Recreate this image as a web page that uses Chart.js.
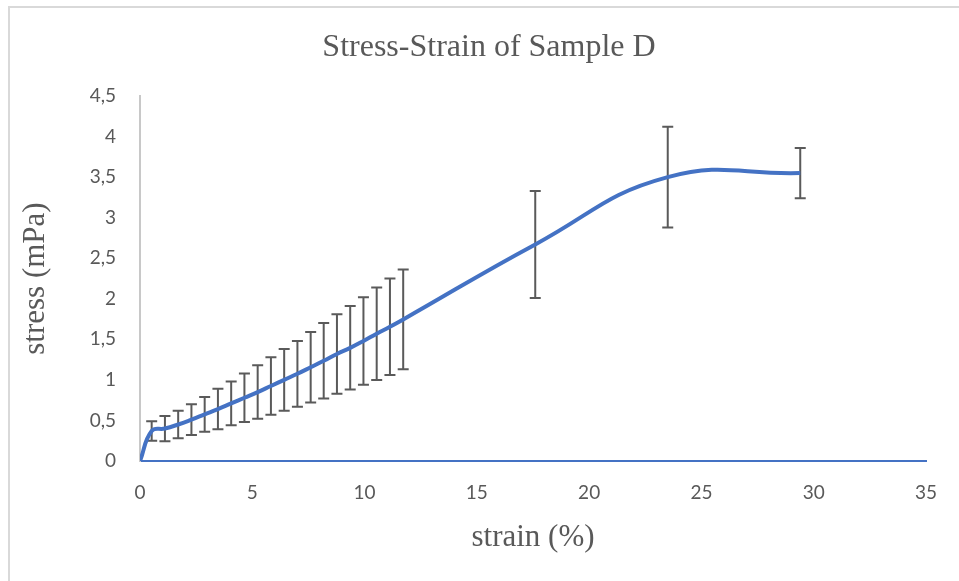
<!DOCTYPE html>
<html>
<head>
<meta charset="utf-8">
<title>Stress-Strain of Sample D</title>
<script src="https://cdn.jsdelivr.net/npm/chart.js@4.4.1/dist/chart.umd.min.js"></script>
<style>
  body { margin: 0; background: #fff; }
  .frame {
    position: absolute; left: 8px; top: 6px; width: 960px; height: 580px;
    border-top: 2px solid #d9d9d9; border-left: 2px solid #d9d9d9;
  }
  #chart { position: absolute; left: 0; top: 0; }
</style>
</head>
<body>
<div class="frame"></div>
<canvas id="chart" width="959" height="581"></canvas>
<script>
// strain (%) and mean stress (mPa) with the +/- spread of each point
const strain = [0, 0.52, 1.11, 1.70, 2.29, 2.88, 3.47, 4.06, 4.65, 5.24, 5.83, 6.42, 7.01, 7.60, 8.18, 8.77, 9.36, 9.95, 10.54, 11.13, 11.72, 17.6, 23.5, 29.4];
const stress = [0, 0.37, 0.40, 0.45, 0.51, 0.575, 0.64, 0.71, 0.78, 0.85, 0.925, 1.0, 1.075, 1.155, 1.235, 1.32, 1.395, 1.48, 1.57, 1.655, 1.745, 2.67, 3.50, 3.55];
const stressErr = [0, 0.12, 0.155, 0.17, 0.19, 0.215, 0.25, 0.27, 0.30, 0.33, 0.355, 0.38, 0.405, 0.435, 0.465, 0.49, 0.515, 0.54, 0.57, 0.595, 0.615, 0.66, 0.62, 0.31];
const xTicks = [0, 5, 10, 15, 20, 25, 30, 35];
const yTicks = [0, 0.5, 1, 1.5, 2, 2.5, 3, 3.5, 4, 4.5];

const points = strain.map((x, i) => ({ x: x, y: stress[i] }));

// vertical error bars with caps, drawn under the line
const errorBars = {
  id: 'errorBars',
  beforeDatasetsDraw(chart) {
    const ctx = chart.ctx;
    const xs = chart.scales.x, ys = chart.scales.y;
    ctx.save();
    ctx.strokeStyle = '#5a5a5a';
    ctx.lineWidth = 2;
    strain.forEach((x, i) => {
      if (!stressErr[i]) return;
      const px = xs.getPixelForValue(x);
      const top = ys.getPixelForValue(stress[i] + stressErr[i]);
      const bot = ys.getPixelForValue(stress[i] - stressErr[i]);
      ctx.beginPath();
      ctx.moveTo(px, top); ctx.lineTo(px, bot);
      ctx.moveTo(px - 5.5, top); ctx.lineTo(px + 5.5, top);
      ctx.moveTo(px - 5.5, bot); ctx.lineTo(px + 5.5, bot);
      ctx.stroke();
    });
    ctx.restore();
  }
};

const tickFont = { family: 'Lato', size: 19 };
const titleFont = { family: '"Liberation Serif"', size: 32, weight: 'normal', lineHeight: 1.2 };
const axisTitleFont = { family: '"Liberation Serif"', size: 31, weight: 'normal', lineHeight: 1.2 };

new Chart(document.getElementById('chart'), {
  type: 'line',
  data: {
    datasets: [{
      label: 'stress',
      data: points,
      borderColor: '#4472C4',
      borderWidth: 4,
      pointRadius: 0,
      tension: 0.45,
      fill: false
    }]
  },
  options: {
    responsive: false,
    animation: false,
    // left padding keeps the title centred on the chart block; the y title is pulled back out with a negative offset
    layout: { padding: { left: 52, right: 33, top: 0, bottom: 20 } },
    plugins: {
      legend: { display: false },
      tooltip: { enabled: false },
      title: {
        display: true,
        text: 'Stress-Strain of Sample D',
        color: '#595959',
        font: titleFont,
        padding: { top: 28, bottom: 29.6 }
      }
    },
    scales: {
      x: {
        type: 'linear',
        min: 0,
        max: 35,
        afterBuildTicks: s => { s.ticks = xTicks.map(v => ({ value: v })); },
        afterFit: s => { s.height = 100; },
        grid: { display: false, drawTicks: false },
        border: { display: true, color: '#4472C4', width: 2 },
        ticks: { color: '#595959', font: tickFont, padding: 20, maxRotation: 0 },
        title: { display: true, text: 'strain (%)', color: '#595959', font: axisTitleFont, padding: { top: 0, bottom: 5 } }
      },
      y: {
        type: 'linear',
        min: 0,
        max: 4.5,
        afterBuildTicks: s => { s.ticks = yTicks.map(v => ({ value: v })); },
        afterFit: s => { s.width = 88; },
        grid: { display: false, drawTicks: false },
        border: { display: true, color: '#c8c8c8', width: 2 },
        ticks: {
          color: '#595959', font: tickFont, padding: 24,
          callback: v => String(v).replace('.', ',')
        },
        title: { display: true, text: 'stress (mPa)', color: '#595959', font: axisTitleFont, padding: { top: -34.6, bottom: 0 } }
      }
    }
  },
  plugins: [errorBars]
});
</script>
</body>
</html>
